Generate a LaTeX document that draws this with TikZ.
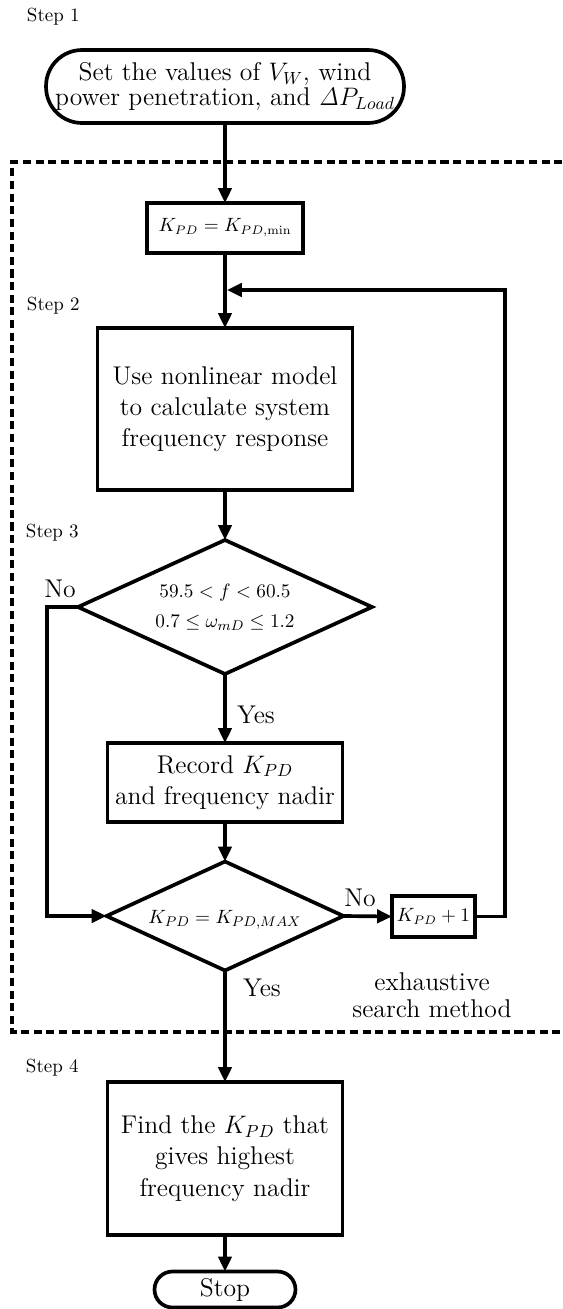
\documentclass[tikz,border=0pt]{standalone}
\usetikzlibrary{shapes.geometric,arrows.meta}
\begin{document}
\begin{tikzpicture}[x=0.02cm, y=-0.02cm,
  every node/.style={inner sep=0pt, outer sep=0pt},
  lw/.style={line width=2.1pt},
  procbox/.style={lw, draw, rectangle, align=center, font=\fontsize{14.6}{17.8}\selectfont},
  termbox/.style={lw, draw, rectangle, align=center, font=\fontsize{14.6}{14.4}\selectfont},
  decbox/.style={lw, draw, diamond},
  dectext/.style={align=center, font=\fontsize{11}{17}\selectfont},
  steplabel/.style={anchor=west, font=\fontsize{10.8}{12}\selectfont},
  plain/.style={font=\fontsize{14.6}{17}\selectfont},
  flow/.style={lw, -{Triangle[length=8.5pt,width=7.5pt]}},
  regionbox/.style={line width=1.9pt, dash pattern=on 4.6pt off 2.6pt}
]
\useasboundingbox (0,0) rectangle (563,1309);

% step labels
\node[steplabel] (s1) at (27,17) {Step 1};
\node[steplabel] (s2) at (27,306) {Step 2};
\node[steplabel] (s3) at (26,533) {Step 3};
\node[steplabel] (s4) at (26,1068) {Step 4};

% exhaustive search region
\draw[regionbox] (575,162) -- (12,162) -- (12,1032) -- (575,1032);

% flowchart blocks
\node[termbox, minimum width=7.16cm, minimum height=1.46cm, rounded corners=0.72cm] (start) at (225,86.5)
  {Set the values of $V_W$, wind\\power penetration, and $\mathit{\Delta} P_{Load}$};
\node[procbox, minimum width=3.12cm, minimum height=1.0cm] (kmin) at (225,228)
  {\fontsize{10.6}{13}\selectfont$K_{PD} = K_{PD,\mathrm{min}}$};
\node[procbox, minimum width=5.1cm, minimum height=3.24cm] (model) at (225,409)
  {Use nonlinear model\\to calculate system\\frequency response};
\node[decbox, minimum width=5.88cm, minimum height=2.68cm] (d1) at (225,607) {};
\node[dectext] (d1t) at (d1.center) {$59.5 < f < 60.5$\\$0.7 \le \omega_{mD} \le 1.2$};
\node[procbox, minimum width=4.7cm, minimum height=1.58cm] (rec) at (225,782.5)
  {Record $K_{PD}$\\and frequency nadir};
\node[decbox, minimum width=4.74cm, minimum height=2.18cm] (d2) at (225,916) {};
\node[dectext, yshift=-0.08cm] (d2t) at (d2.center) {$K_{PD} = K_{PD,MAX}$};
\node[procbox, minimum width=1.66cm, minimum height=0.82cm] (inc) at (433.5,916.5)
  {\fontsize{10.6}{13}\selectfont$K_{PD} + 1$};
\node[procbox, minimum width=4.7cm, minimum height=3.06cm] (find) at (225,1158.5)
  {Find the $K_{PD}$ that\\gives highest\\frequency nadir};
\node[termbox, minimum width=2.82cm, minimum height=0.72cm, rounded corners=0.36cm] (stop) at (225,1289.5)
  {Stop};

% branch labels
\node[plain] (no1) at (60,589) {No};
\node[plain] (yes1) at (256,715) {Yes};
\node[plain] (no2) at (360,898) {No};
\node[plain] (yes2) at (262,988) {Yes};
\node[plain, align=center, font=\fontsize{14.6}{15.5}\selectfont] (note) at (432,995)
  {exhaustive\\search method};

% routing points
\coordinate (loopR) at (505,290);
\coordinate (loopJ) at (225,290);
\coordinate (noTop) at (47,607);
\coordinate (noBot) at (47,916);

% connectors
\draw[flow] (start.south) -- (kmin.north);
\draw[flow] (kmin.south) -- (model.north);
\draw[flow] (model.south) -- (d1.north);
\draw[flow] (d1.south) -- (rec.north);
\draw[flow] (rec.south) -- (d2.north);
\draw[flow] (d2.east) -- (inc.west);
\draw[flow] (d2.south) -- (find.north);
\draw[flow] (find.south) -- (stop.north);
\draw[flow] (d1.west) -- (noTop) -- (noBot) -- (d2.west);
\draw[flow] (inc.east) -- (inc.east -| loopR) -- (loopR) -- ([xshift=1.1pt]loopJ);
\end{tikzpicture}
\end{document}
